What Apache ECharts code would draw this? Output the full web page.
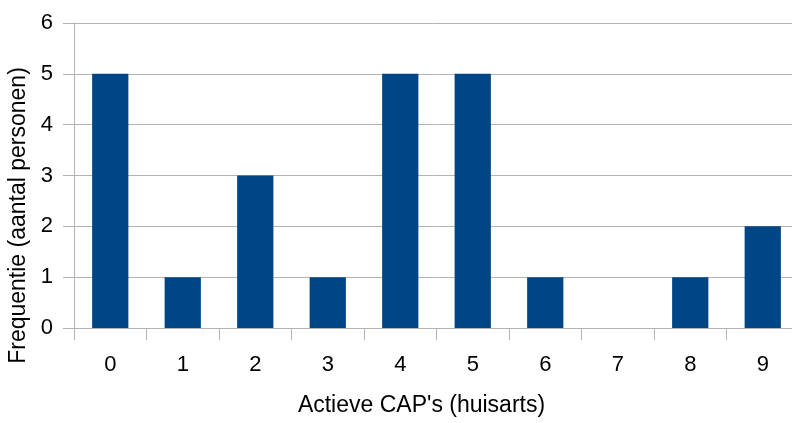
<!DOCTYPE html>
<html>
<head>
<meta charset="utf-8">
<script src="https://cdn.jsdelivr.net/npm/echarts@6/dist/echarts.min.js"></script>
<style>
  html, body { margin: 0; padding: 0; background: #fff; }
  #chart { width: 792px; height: 423px; }
</style>
</head>
<body>
<div id="chart"></div>
<script>
const categories = ["0", "1", "2", "3", "4", "5", "6", "7", "8", "9"];
const frequencies = [5, 1, 3, 1, 5, 5, 1, 0, 1, 2];
const xName = "Actieve CAP's (huisarts)";
const yName = "Frequentie (aantal personen)";

const chart = echarts.init(document.getElementById("chart"));
const font = "'Liberation Sans', Arial, sans-serif";

chart.setOption({
  animation: false,
  // plot area runs a little past the right edge, like the original
  grid: { left: 74, width: 725, top: 23, bottom: 95, outerBoundsMode: "none" },
  xAxis: {
    type: "category",
    data: categories,
    name: xName,
    nameLocation: "middle",
    nameGap: 66,
    nameTextStyle: { fontFamily: font, fontSize: 23, color: "#000", padding: [0, 30, 0, 0] },
    axisLine: { show: true, lineStyle: { color: "#b3b3b3", width: 1 } },
    axisTick: { show: true, length: 12, lineStyle: { color: "#b3b3b3" } },
    axisLabel: { margin: 26, fontFamily: font, fontSize: 22, color: "#000" },
  },
  yAxis: {
    type: "value",
    min: 0,
    max: 6,
    interval: 1,
    name: yName,
    nameLocation: "middle",
    nameGap: 40,
    nameTextStyle: { fontFamily: font, fontSize: 23, color: "#000", padding: [0, 80, 0, 0] },
    axisLine: { show: true, lineStyle: { color: "#b3b3b3", width: 1 } },
    axisTick: { show: true, length: 11, lineStyle: { color: "#b3b3b3" } },
    axisLabel: { margin: 21, fontFamily: font, fontSize: 22, color: "#000" },
    splitLine: { show: true, lineStyle: { color: "#b3b3b3", width: 1 } },
  },
  series: [
    {
      type: "bar",
      data: frequencies,
      barWidth: "50%",
      itemStyle: { color: "#004586" },
    },
  ],
});
</script>
</body>
</html>
